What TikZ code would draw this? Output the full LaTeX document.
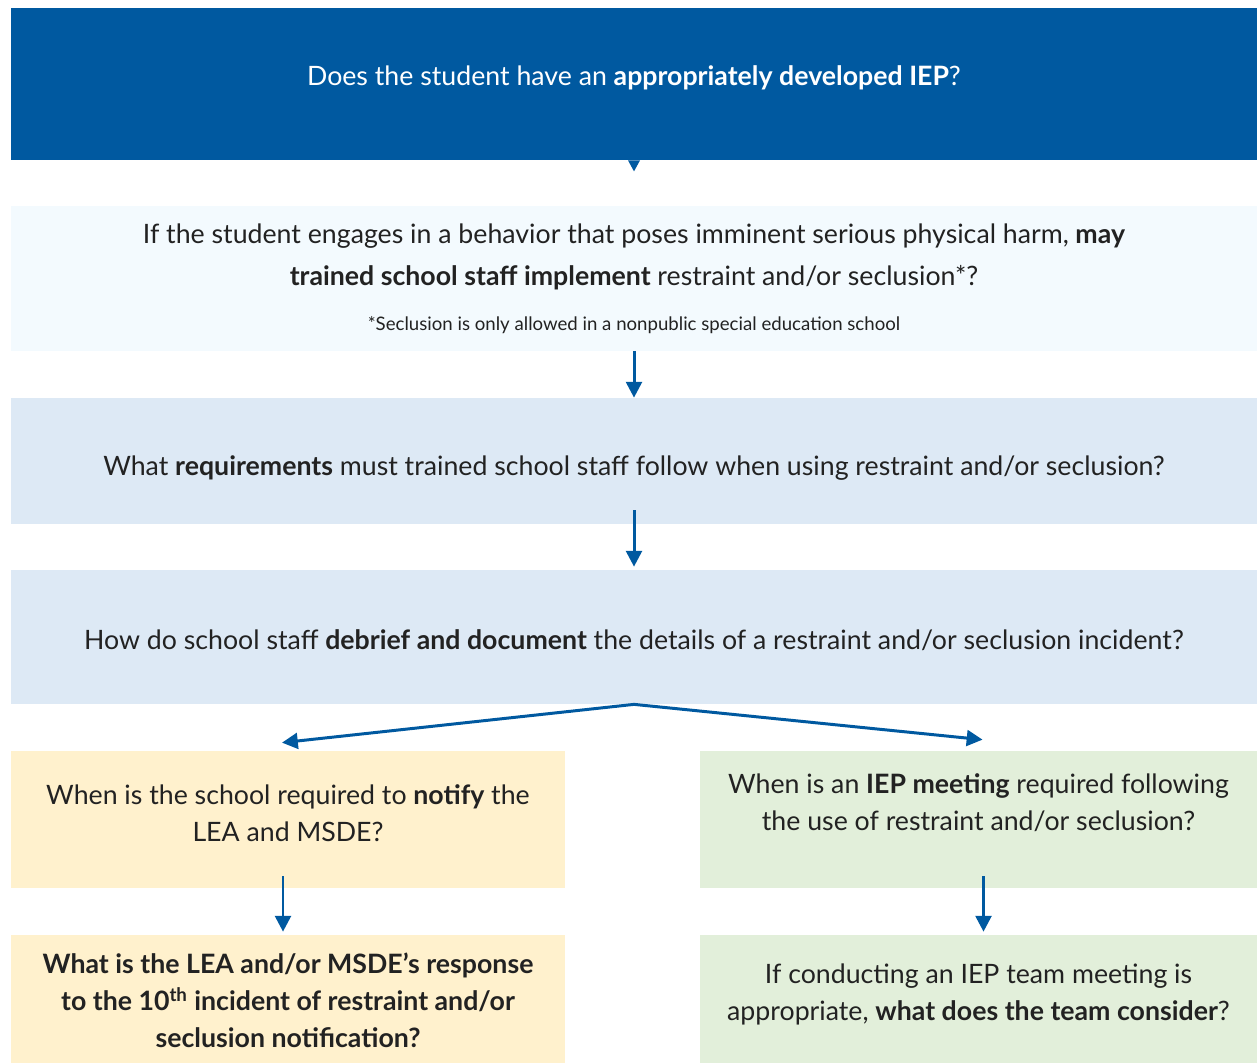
\documentclass[tikz,border=0pt]{standalone}
\usepackage{fontspec}
\setmainfont{Lato}
\usetikzlibrary{arrows.meta,calc}

\definecolor{mdblue}{RGB}{0,89,160}
\definecolor{palebox}{RGB}{243,250,254}
\definecolor{lightbox}{RGB}{221,233,245}
\definecolor{notebox}{RGB}{255,241,205}
\definecolor{iepbox}{RGB}{226,239,218}
\definecolor{txtgray}{RGB}{34,34,34}

\begin{document}
\begin{tikzpicture}[x=0.02cm, y=-0.02cm,
		box/.style 2 args={
			draw=none,
			inner sep=0pt,
			minimum width=#1*0.02cm,
			minimum height=#2*0.02cm,
		},
		qtxt/.style={
			text=txtgray,
			align=center,
			inner sep=0pt,
			font=\fontsize{15.2pt}{21pt}\selectfont,
		},
		flow/.style={line width=1.7pt, mdblue, -{Triangle[width=9pt,length=9pt]}},
	]
	\useasboundingbox (0,0) rectangle (1257,1063);
	\def\W{1246}; \def\xc{634};
	
	% top question
	\node[box={\W}{152}, fill=mdblue] (iep) at (\xc,84) {};
	\node[qtxt, text=white] (ieptxt) at (\xc,78) {Does the student have an \textbf{appropriately developed IEP}?};
	\fill[mdblue] ($(iep.south)+(-6,0)$) -- ($(iep.south)+(6,0)$) -- ($(iep.south)+(0,11)$) -- cycle;
	
	\node[box={\W}{145}, fill=palebox] (harm) at (\xc,278.5) {};
	\node[qtxt, font=\fontsize{15.2pt}{23.8pt}\selectfont] (harmtxt) at (\xc,257)
		{If the student engages in a behavior that poses imminent serious physical harm, \textbf{may}\\
		 \textbf{trained school staff implement} restraint and/or seclusion*?};
	\node[qtxt, font=\fontsize{10.6pt}{12pt}\selectfont] (harmnote) at (\xc,325)
		{*Seclusion is only allowed in a nonpublic special education school};
	
	\node[box={\W}{126}, fill=lightbox] (req) at (\xc,461) {};
	\node[qtxt] (reqtxt) at (\xc,468) {What \textbf{requirements} must trained school staff follow when using restraint and/or seclusion?};
	
	\node[box={\W}{134}, fill=lightbox] (debrief) at (\xc,637) {};
	\node[qtxt] (debrieftxt) at (\xc,640) {How do school staff \textbf{debrief and document} the details of a restraint and/or seclusion incident?};
	
	% two branches
	\node[box={554}{137}, fill=notebox] (notify) at (288,819.5) {};
	\node[qtxt] (notifytxt) at (288,813) {When is the school required to \textbf{notify} the\\ LEA and MSDE?};
	\node[box={557}{137}, fill=iepbox] (meet) at (978.5,819.5) {};
	\node[qtxt] (meettxt) at (978.5,802.5) {When is an \textbf{IEP meeting} required following\\ the use of restraint and/or seclusion?};
	
	\node[box={554}{128}, fill=notebox] (tenth) at (288,999) {};
	\node[qtxt] (tenthtxt) at (288,1000) {\textbf{What is the LEA and/or MSDE’s response}\\
		\textbf{to the 10\textsuperscript{th} incident of restraint and/or}\\ \textbf{seclusion notification?}};
	\node[box={557}{128}, fill=iepbox] (consider) at (978.5,999) {};
	\node[qtxt] (considertxt) at (978.5,994.5) {If conducting an IEP team meeting is\\ appropriate, \textbf{what does the team consider}?};
	
	\draw[flow] (harm.south) -- (req.north);
	\draw[flow] ($(req.south)+(0,-14)$) -- ($(debrief.north)+(0,-3)$);
	\draw[flow] (debrief.south) -- ($(notify.north)+(-6,-8)$);
	\draw[flow] (debrief.south) -- ($(meet.north)+(4,-11)$);
	\draw[flow] ($(notify.south)+(-5,-12)$) -- ($(tenth.north)+(-5,-3)$);
	\draw[flow] ($(meet.south)+(5,-12)$) -- ($(consider.north)+(5,-3)$);
	
\end{tikzpicture}
\end{document}
